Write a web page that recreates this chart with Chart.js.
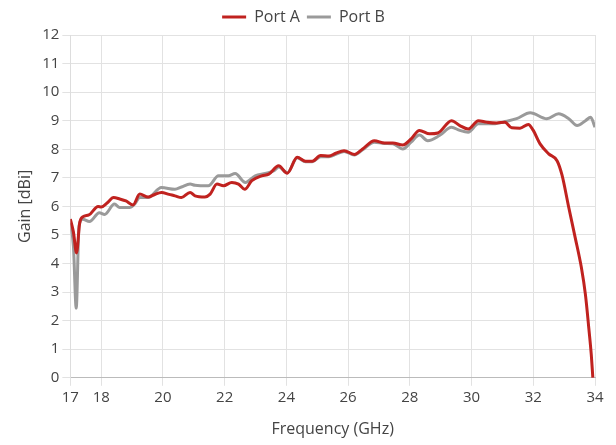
<!DOCTYPE html>
<html>
<head>
<meta charset="utf-8">
<script src="https://cdn.jsdelivr.net/npm/chart.js@4/dist/chart.umd.min.js"></script>
<style>
  html, body { margin: 0; padding: 0; background: #fff; }
  #wrap { width: 616px; height: 445px; }
</style>
</head>
<body>
<div id="wrap"><canvas id="gainChart"></canvas></div>
<script>
// Port A (red) - frequency in GHz, gain in dBi
const freqA = [17.0, 17.1, 17.2, 17.3, 17.4, 17.6, 17.9, 18.0, 18.2, 18.4, 18.6, 18.8, 19.03, 19.25, 19.52, 19.7, 19.95, 20.2, 20.39, 20.6, 20.88, 21.04, 21.36, 21.53, 21.75, 21.96, 22.23, 22.45, 22.65, 22.88, 23.2, 23.43, 23.75, 24.03, 24.35, 24.62, 24.84, 25.11, 25.38, 25.6, 25.87, 26.2, 26.47, 26.85, 27.18, 27.45, 27.77, 28.04, 28.31, 28.64, 28.91, 29.35, 29.62, 29.89, 30.22, 30.49, 30.81, 31.08, 31.3, 31.57, 31.84, 32.0, 32.22, 32.5, 32.77, 32.93, 33.15, 33.36, 33.56, 33.69, 33.8, 33.88, 33.93];
const gainA = [5.56, 5.1, 4.37, 5.4, 5.63, 5.7, 6.0, 5.98, 6.13, 6.31, 6.26, 6.19, 6.05, 6.43, 6.33, 6.4, 6.49, 6.42, 6.37, 6.31, 6.49, 6.37, 6.33, 6.43, 6.78, 6.72, 6.84, 6.78, 6.6, 6.9, 7.07, 7.13, 7.42, 7.16, 7.72, 7.58, 7.58, 7.78, 7.76, 7.86, 7.95, 7.82, 8.01, 8.3, 8.22, 8.22, 8.15, 8.36, 8.66, 8.54, 8.57, 9.0, 8.83, 8.71, 9.0, 8.95, 8.92, 8.95, 8.75, 8.74, 8.87, 8.66, 8.19, 7.84, 7.6, 7.1, 5.96, 4.9, 3.85, 2.91, 1.73, 0.8, 0];

// Port B (gray)
const freqB = [17.0, 17.1, 17.19, 17.28, 17.4, 17.62, 17.94, 18.11, 18.43, 18.6, 18.92, 19.08, 19.25, 19.52, 19.95, 20.39, 20.6, 20.88, 21.04, 21.47, 21.8, 22.12, 22.34, 22.67, 22.99, 23.32, 23.6, 23.75, 24.03, 24.35, 24.62, 24.84, 25.11, 25.38, 25.6, 25.87, 26.2, 26.47, 26.85, 27.18, 27.45, 27.77, 28.04, 28.31, 28.58, 28.96, 29.35, 29.62, 29.89, 30.22, 30.7, 31.14, 31.46, 31.9, 32.44, 32.82, 33.15, 33.42, 33.69, 33.86, 34.0];
const gainB = [5.4, 4.6, 2.44, 5.3, 5.55, 5.47, 5.78, 5.72, 6.08, 5.96, 5.96, 6.08, 6.31, 6.31, 6.66, 6.6, 6.68, 6.78, 6.74, 6.72, 7.07, 7.07, 7.15, 6.84, 7.07, 7.15, 7.25, 7.38, 7.18, 7.7, 7.56, 7.56, 7.74, 7.74, 7.82, 7.92, 7.8, 7.98, 8.25, 8.2, 8.19, 8.01, 8.25, 8.5, 8.3, 8.48, 8.77, 8.66, 8.6, 8.89, 8.89, 8.98, 9.07, 9.28, 9.07, 9.24, 9.07, 8.83, 9.0, 9.12, 8.77];

const xTicks = [17, 18, 20, 22, 24, 26, 28, 30, 32, 34];

const txt = '#444';
const fam = "'Open Sans', 'Noto Sans', sans-serif";

const toPts = (xs, ys) => xs.map((x, i) => ({ x: x, y: ys[i] }));

const ctx = document.getElementById('gainChart');
const myChart = new Chart(ctx, {
    type: 'line',
    data: {
        datasets: [{
            label: 'Port A',
            data: toPts(freqA, gainA),
            borderColor: '#c0221f',
            backgroundColor: '#c0221f',
            borderWidth: 3,
            pointRadius: 0,
            tension: 0.4,
            cubicInterpolationMode: 'monotone'
        }, {
            label: 'Port B',
            data: toPts(freqB, gainB),
            borderColor: '#9a9a9a',
            backgroundColor: '#9a9a9a',
            borderWidth: 3,
            pointRadius: 0,
            tension: 0.4,
            cubicInterpolationMode: 'monotone'
        }]
    },
    options: {
        responsive: true,
        maintainAspectRatio: false,
        animation: false,
        layout: { padding: { right: 21, left: 12, top: 2, bottom: 2 } },
        plugins: {
            legend: {
                position: 'top',
                labels: {
                    usePointStyle: true,
                    pointStyle: 'line',
                    pointStyleWidth: 24,
                    color: txt,
                    font: { family: fam, size: 16 },
                    padding: 7
                }
            },
            tooltip: { enabled: false }
        },
        scales: {
            x: {
                type: 'linear',
                min: 17,
                max: 34,
                afterBuildTicks: (axis) => { axis.ticks = xTicks.map(v => ({ value: v })); },
                ticks: { color: txt, font: { family: fam, size: 15 }, autoSkip: false, maxRotation: 0 },
                grid: { color: '#e2e2e2', tickLength: 8 },
                border: { color: '#bbb' },
                title: { display: true, text: 'Frequency (GHz)', color: txt, font: { family: fam, size: 16 }, padding: { top: 10 } }
            },
            y: {
                min: 0,
                max: 12,
                ticks: { stepSize: 1, color: txt, font: { family: fam, size: 15 } },
                grid: { color: '#e2e2e2', tickLength: 8 },
                border: { color: '#ddd' },
                title: { display: true, text: 'Gain [dBi]', color: txt, font: { family: fam, size: 16 } }
            }
        }
    }
});
</script>
</body>
</html>
